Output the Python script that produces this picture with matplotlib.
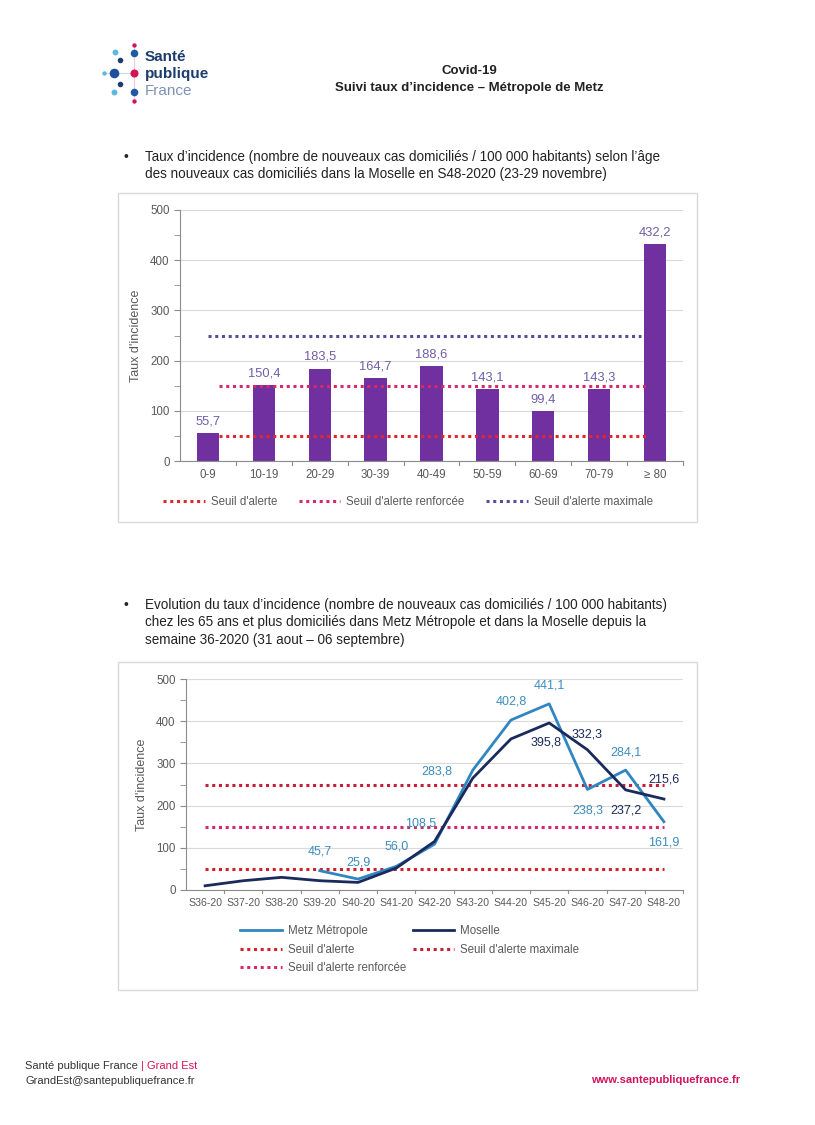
import numpy as np
import matplotlib.pyplot as plt
from matplotlib.patches import Rectangle
from matplotlib.lines import Line2D

plt.rcParams['font.family'] = ['Liberation Sans', 'DejaVu Sans']

# --- données graphique 1 : taux par classe d'âge (S48-2020, Moselle)
ages = ['0-9', '10-19', '20-29', '30-39', '40-49', '50-59', '60-69', '70-79', '≥ 80']
taux_age = [55.7, 150.4, 183.5, 164.7, 188.6, 143.1, 99.4, 143.3, 432.2]

# --- seuils
seuils = [50, 150, 250]
seuils_noms = ["Seuil d'alerte", "Seuil d'alerte renforcée", "Seuil d'alerte maximale"]

# --- données graphique 2 : 65 ans et plus
semaines = ['S36-20', 'S37-20', 'S38-20', 'S39-20', 'S40-20', 'S41-20', 'S42-20',
            'S43-20', 'S44-20', 'S45-20', 'S46-20', 'S47-20', 'S48-20']
metz = [np.nan, np.nan, np.nan, 45.7, 25.9, 56.0, 108.5, 283.8, 402.8, 441.1, 238.3, 284.1, 161.9]
moselle = [10, 22, 30, 22, 18, 52, 115, 265, 358, 395.8, 332.3, 237.2, 215.6]

W, H = 815, 1125
fig = plt.figure(figsize=(W / 100, H / 100), dpi=100)
fig.patch.set_facecolor('white')


def rect(l, t, r, b):
    return [l / W, 1 - b / H, (r - l) / W, (b - t) / H]


# calque page (logo, textes, cadres)
ov = fig.add_axes([0, 0, 1, 1])
ov.set_xlim(0, W)
ov.set_ylim(H, 0)
ov.axis('off')

# logo
ov.plot([134, 134], [45, 101], color='#f2c6d4', lw=0.8, zorder=1)
ov.plot([106, 134], [73, 73], color='#c9d7ea', lw=0.8, zorder=1)
dots = [(134, 45, 10, '#d4145a'), (134, 53, 30, '#1f5aa6'), (115, 52, 18, '#5bb8de'),
        (120, 60, 16, '#1d3c6e'), (114, 73, 48, '#1f4e9a'), (104, 73, 10, '#5bb8de'),
        (134, 73, 34, '#d4145a'), (120, 84, 16, '#1d3c6e'), (114, 92, 18, '#5bb8de'),
        (134, 92, 30, '#1f5aa6'), (134, 101, 10, '#d4145a')]
for dx, dy, ds, dc in dots:
    ov.scatter(dx, dy, s=ds, color=dc, zorder=2, linewidths=0)
ov.text(145, 57, 'Santé', fontsize=11, fontweight='bold', color='#1d3c6e', va='center')
ov.text(145, 74, 'publique', fontsize=11, fontweight='bold', color='#1d3c6e', va='center')
ov.text(145, 91, 'France', fontsize=11, color='#7d92b5', va='center')

# titre
ov.text(469, 71, 'Covid-19', fontsize=9.5, fontweight='bold', color='#222222', ha='center', va='center')
ov.text(469, 88, "Suivi taux d’incidence – Métropole de Metz", fontsize=9.5, fontweight='bold',
        color='#222222', ha='center', va='center')

# puces
txt_col = '#222222'
fs = 9.75
ov.text(124, 157, '•', fontsize=10, color=txt_col, va='center')
ov.text(145, 157, "Taux d’incidence (nombre de nouveaux cas domiciliés / 100 000 habitants) selon l’âge",
        fontsize=fs, color=txt_col, va='center')
ov.text(145, 174, "des nouveaux cas domiciliés dans la Moselle en S48-2020 (23-29 novembre)",
        fontsize=fs, color=txt_col, va='center')
ov.text(124, 605, '•', fontsize=10, color=txt_col, va='center')
ov.text(145, 605, "Evolution du taux d’incidence (nombre de nouveaux cas domiciliés / 100 000 habitants)",
        fontsize=fs, color=txt_col, va='center')
ov.text(145, 622, "chez les 65 ans et plus domiciliés dans Metz Métropole et dans la Moselle depuis la",
        fontsize=fs, color=txt_col, va='center')
ov.text(145, 640, "semaine 36-2020 (31 aout – 06 septembre)", fontsize=fs, color=txt_col, va='center')

# cadres
ov.add_patch(Rectangle((118, 193), 579, 329, fill=False, ec='#d9d9d9', lw=1))
ov.add_patch(Rectangle((118, 662), 579, 328, fill=False, ec='#d9d9d9', lw=1))

# pied de page
ov.text(25, 1066, 'Santé publique France', fontsize=8, color='#333333', va='center')
ov.text(141, 1066, '| Grand Est', fontsize=8, color='#d4145a', va='center')
ov.text(25, 1081, 'GrandEst@santepubliquefrance.fr', fontsize=8, color='#333333', va='center')
ov.text(740, 1080, 'www.santepubliquefrance.fr', fontsize=8, color='#d4145a',
        fontweight='bold', ha='right', va='center')

gris = '#595959'
rouge = '#e3262d'
rose = '#d42a6a'
violet = '#5b4a9e'
dot = (0, (1, 1.2))


def style_axes(ax):
    ax.set_ylim(0, 500)
    ax.set_yticks(range(0, 501, 100))
    ax.set_yticks(range(50, 500, 100), minor=True)
    ax.grid(axis='y', color='#d9d9d9', lw=0.8)
    ax.set_axisbelow(True)
    for s in ['top', 'right']:
        ax.spines[s].set_visible(False)
    for s in ['left', 'bottom']:
        ax.spines[s].set_color('#8c8c8c')
        ax.spines[s].set_linewidth(0.8)
    ax.tick_params(axis='y', which='both', length=4, color='#8c8c8c', labelcolor=gris, labelsize=8.3)
    ax.tick_params(axis='x', length=0, labelcolor=gris, pad=6)
    ax.set_ylabel("Taux d'incidence", fontsize=9, color=gris, labelpad=6)


# ---------------- graphique 1
ax1 = fig.add_axes(rect(180, 210, 683, 461))
x1 = np.arange(len(ages))
ax1.bar(x1, taux_age, width=0.4, color='#7030a0', zorder=2)
ax1.set_xlim(-0.5, len(ages) - 0.5)
style_axes(ax1)
ax1.set_xticks(x1)
ax1.set_xticklabels(ages, fontsize=8.3)
for b in np.arange(0.5, len(ages), 1):
    ax1.plot([b, b], [0, -7], color='#8c8c8c', lw=0.8, clip_on=False)
ax1.hlines(seuils[0], 0.2, 7.9, colors=rouge, lw=2.2, linestyles=[dot], zorder=3)
ax1.hlines(seuils[1], 0.2, 7.9, colors=rose, lw=2.2, linestyles=[dot], zorder=3)
ax1.hlines(seuils[2], 0.0, 7.75, colors=violet, lw=2.2, linestyles=[dot], zorder=3)
for xi, v in zip(x1, taux_age):
    ax1.text(xi, v + 12, f'{v:.1f}'.replace('.', ','), ha='center', va='bottom', fontsize=9.3, color='#6f5fa8')
h1 = [Line2D([], [], color=c, lw=2.2, ls=dot) for c in [rouge, rose, violet]]
leg1 = fig.legend(h1, seuils_noms, loc='center', bbox_to_anchor=(408 / W, 1 - 502 / H), ncol=3,
                  frameon=False, fontsize=8.3, handlelength=3.6, columnspacing=1.9, handletextpad=0.5)
for t in leg1.get_texts():
    t.set_color(gris)

# ---------------- graphique 2
ax2 = fig.add_axes(rect(186, 679, 683, 890))
x2 = np.arange(len(semaines))
bleu = '#2f86c0'
marine = '#1b2a5c'
rouge2 = '#d0202c'
ax2.plot(x2, [seuils[0]] * len(x2), color=rouge2, lw=2.2, ls=dot, zorder=2)
ax2.plot(x2, [seuils[1]] * len(x2), color=rose, lw=2.2, ls=dot, zorder=2)
ax2.plot(x2, [seuils[2]] * len(x2), color='#c41e3a', lw=2.2, ls=dot, zorder=2)
ax2.plot(x2, metz, color=bleu, lw=2, zorder=3)
ax2.plot(x2, moselle, color=marine, lw=2, zorder=4)
ax2.set_xlim(-0.5, len(semaines) - 0.5)
style_axes(ax2)
ax2.set_xticks(x2)
ax2.set_xticklabels(semaines, fontsize=7.6)
for b in np.arange(0.5, len(semaines), 1):
    ax2.plot([b, b], [0, -7], color='#8c8c8c', lw=0.8, clip_on=False)

# étiquettes (position en points : dx, dy)
pos_metz = {3: (0, 14), 4: (0, 12), 5: (0, 14), 6: (-10, 15), 7: (-26, -1),
            8: (0, 13), 9: (0, 13), 10: (0, -15), 11: (0, 13), 12: (0, -15)}
pos_mos = {9: (-2, -14), 10: (0, 11), 11: (0, -15), 12: (0, 14)}
for i, (dx, dy) in pos_metz.items():
    ax2.annotate(f'{metz[i]:.1f}'.replace('.', ','), (x2[i], metz[i]), xytext=(dx, dy),
                 textcoords='offset points', ha='center', va='center', fontsize=9, color='#3c8dbc', zorder=5)
for i, (dx, dy) in pos_mos.items():
    ax2.annotate(f'{moselle[i]:.1f}'.replace('.', ','), (x2[i], moselle[i]), xytext=(dx, dy),
                 textcoords='offset points', ha='center', va='center', fontsize=9, color=marine, zorder=5)

h2 = [Line2D([], [], color=bleu, lw=2),
      Line2D([], [], color=rouge2, lw=2.2, ls=dot),
      Line2D([], [], color=rose, lw=2.2, ls=dot),
      Line2D([], [], color=marine, lw=2),
      Line2D([], [], color='#c41e3a', lw=2.2, ls=dot)]
n2 = ['Metz Métropole', seuils_noms[0], seuils_noms[1], 'Moselle', seuils_noms[2]]
leg2 = fig.legend(h2, n2, loc='upper left', bbox_to_anchor=(230 / W, 1 - 915 / H), ncol=2,
                  frameon=False, fontsize=8.3, handlelength=3.6, columnspacing=0.6, handletextpad=0.5,
                  labelspacing=0.55)
for t in leg2.get_texts():
    t.set_color(gris)

fig.savefig('out.png', dpi=100, facecolor='white')
